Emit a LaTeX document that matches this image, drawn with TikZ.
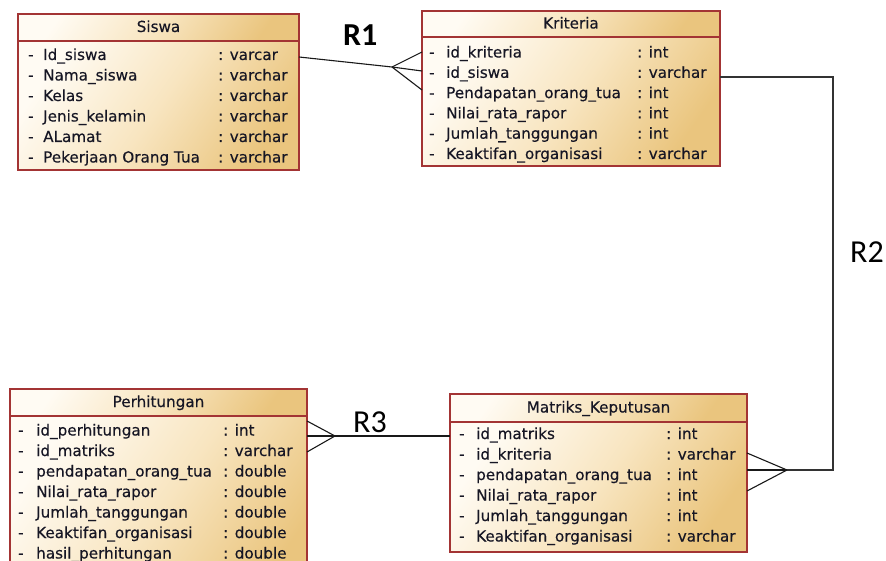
\documentclass[tikz,border=0pt]{standalone}
\usepackage{fontspec}
\setmainfont{DejaVu Sans}[UprightFeatures={FakeBold=0.35}]
\newfontfamily\lblfont{Carlito}
\usetikzlibrary{calc}

\definecolor{edge}{RGB}{163,52,52}
\definecolor{fillA}{RGB}{255,251,243}
\definecolor{fillM}{RGB}{248,229,192}
\definecolor{fillB}{RGB}{234,197,126}
\definecolor{ink}{RGB}{22,22,36}
\definecolor{wirecol}{RGB}{25,25,25}

\tikzset{
  panel/.style={draw=edge, line width=1.3pt, top color=fillA, bottom color=fillB,
    middle color=fillM, shading angle=55, inner sep=0pt, outer sep=0pt, anchor=north west},
  headtext/.style={font=\fontsize{15.2}{18}\selectfont, text=ink, inner sep=0pt,
    text height=11pt, text depth=0pt},
  attr/.style={font=\fontsize{15.2}{18}\selectfont, text=ink, inner sep=0pt,
    anchor=west, text height=11pt, text depth=0pt},
  wire/.style={draw=wirecol, line width=1.1pt},
  rel/.style={font=\lblfont\fontsize{32}{36}\selectfont, inner sep=0pt, text=black, anchor=base west},
}

\begin{document}
\begin{tikzpicture}[x=1pt, y=-1pt]
\useasboundingbox (0,0) rectangle (886,561);
\clip (0,0) rectangle (886,561);
\fill[white] (0,0) rectangle (886,561);

% ---------- Siswa ----------
\node[panel, minimum width=281pt, minimum height=27pt] (siswaH) at (18,14) {};
\node[panel, minimum width=281pt, minimum height=129pt] (siswa) at (18,41) {};
\node[headtext] (siswaT) at ([yshift=1pt]siswaH.center) {Siswa};
\foreach \n/\t [count=\i] in {Id\_siswa/varcar, Nama\_siswa/varchar, Kelas/varchar,
    Jenis\_kelamin/varchar, ALamat/varchar, Pekerjaan Orang Tua/varchar} {
  \node[attr] (siswa-\i-d) at (28, {54.5+20.5*(\i-1)}) {-};
  \node[attr] (siswa-\i) at (43, {54.5+20.5*(\i-1)}) {\n};
  \node[attr] (siswa-\i-t) at (218, {54.5+20.5*(\i-1)}) {: \t};
}

% ---------- Kriteria ----------
\node[panel, minimum width=298pt, minimum height=26pt] (kriteriaH) at (422,11) {};
\node[panel, minimum width=298pt, minimum height=129pt] (kriteria) at (422,37) {};
\node[headtext] (kriteriaT) at ([yshift=1pt]kriteriaH.center) {Kriteria};
\foreach \n/\t [count=\i] in {id\_kriteria/int, id\_siswa/varchar, Pendapatan\_orang\_tua/int,
    Nilai\_rata\_rapor/int, Jumlah\_tanggungan/int, Keaktifan\_organisasi/varchar} {
  \node[attr] (kriteria-\i-d) at (429, {52+20.3*(\i-1)}) {-};
  \node[attr] (kriteria-\i) at (446, {52+20.3*(\i-1)}) {\n};
  \node[attr] (kriteria-\i-t) at (637, {52+20.3*(\i-1)}) {: \t};
}

% ---------- Perhitungan ----------
\node[panel, minimum width=297pt, minimum height=27pt] (perhitunganH) at (10,389) {};
\node[panel, minimum width=297pt, minimum height=190pt] (perhitungan) at (10,416) {};
\node[headtext] (perhitunganT) at ([yshift=1pt]perhitunganH.center) {Perhitungan};
\foreach \n/\t [count=\i] in {id\_perhitungan/int, id\_matriks/varchar,
    pendapatan\_orang\_tua/double, Nilai\_rata\_rapor/double, Jumlah\_tanggungan/double,
    Keaktifan\_organisasi/double, hasil\_perhitungan/double} {
  \node[attr] (perhitungan-\i-d) at (18, {430+20.5*(\i-1)}) {-};
  \node[attr] (perhitungan-\i) at (36, {430+20.5*(\i-1)}) {\n};
  \node[attr] (perhitungan-\i-t) at (223, {430+20.5*(\i-1)}) {: \t};
}

% ---------- Matriks_Keputusan ----------
\node[panel, minimum width=297pt, minimum height=28pt] (matriksH) at (450,394) {};
\node[panel, minimum width=297pt, minimum height=130pt] (matriks) at (450,422) {};
\node[headtext] (matriksT) at ([yshift=1pt]matriksH.center) {Matriks\_Keputusan};
\foreach \n/\t [count=\i] in {id\_matriks/int, id\_kriteria/varchar, pendapatan\_orang\_tua/int,
    Nilai\_rata\_rapor/int, Jumlah\_tanggungan/int, Keaktifan\_organisasi/varchar} {
  \node[attr] (matriks-\i-d) at (459, {433.5+20.5*(\i-1)}) {-};
  \node[attr] (matriks-\i) at (476, {433.5+20.5*(\i-1)}) {\n};
  \node[attr] (matriks-\i-t) at (666, {433.5+20.5*(\i-1)}) {: \t};
}

% ---------- R1: Siswa -- Kriteria (one to many) ----------
\coordinate (r1) at (392,67);
\draw[wire] ($(siswa.north east)+(0,16)$) -- (r1);
\draw[wire] (r1) -- ($(kriteria.north west)+(0,15)$);
\draw[wire] (r1) -- ($(kriteria.north west)+(0,34)$);
\draw[wire] (r1) -- ($(kriteria.north west)+(0,53)$);
\node[rel, font=\lblfont\bfseries\fontsize{32}{36}\selectfont] (r1lbl) at (343,46) {R1};

% ---------- R2: Kriteria -- Matriks_Keputusan ----------
\coordinate (r2a) at (833,77);
\coordinate (r2b) at (833,470);
\coordinate (r2) at (787,470);
\draw[wire, line width=1.6pt, draw=black!80] ($(kriteria.north east)+(0,40)$) -- (r2a) -- (r2b) -- (r2);
\draw[wire] (r2) -- ($(matriks.north east)+(0,31)$);
\draw[wire] (r2) -- ($(matriks.north east)+(0,48)$);
\draw[wire] (r2) -- ($(matriks.north east)+(0,69)$);
\node[rel] (r2lbl) at (850,263) {R2};

% ---------- R3: Matriks_Keputusan -- Perhitungan ----------
\coordinate (r3) at (335,436);
\draw[wire] (r3) -- ($(matriks.north west)+(0,14)$);
\draw[wire] (r3) -- ($(perhitungan.north east)+(0,5)$);
\draw[wire] (r3) -- ($(perhitungan.north east)+(0,20)$);
\draw[wire] (r3) -- ($(perhitungan.north east)+(0,36)$);
\node[rel] (r3lbl) at (353,432) {R3};
\end{tikzpicture}
\end{document}
